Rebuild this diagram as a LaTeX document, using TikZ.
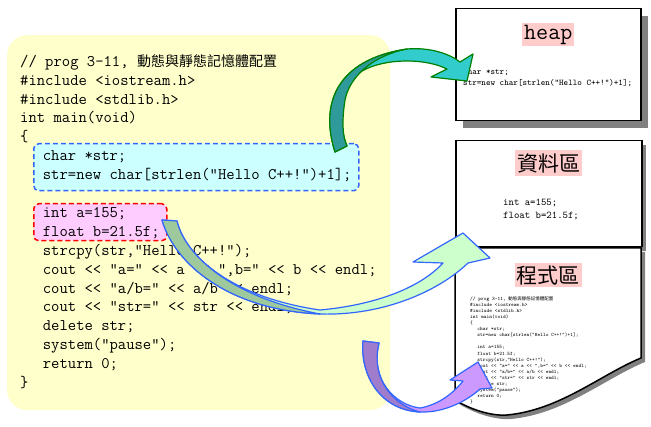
\documentclass[tikz,border=0pt]{standalone}
\usepackage{fontspec}
\setmainfont{Liberation Serif}
\newfontfamily\cjk{Noto Sans CJK TC}
\usepackage{xcolor}
\usetikzlibrary{positioning, shadows}

\definecolor{codebg}{HTML}{FFFFCC}
\definecolor{ptrfill}{HTML}{CCFFFF}
\definecolor{varfill}{HTML}{FFCCFF}
\definecolor{dashblue}{HTML}{3366FF}
\definecolor{labelpink}{HTML}{FFCCCC}
\definecolor{pageshadow}{HTML}{808080}
\definecolor{tealfront}{HTML}{33CCCC}
\definecolor{tealback}{HTML}{2E9A9A}
\definecolor{greenfront}{HTML}{CCFFCC}
\definecolor{greenback}{HTML}{9DC99D}
\definecolor{purplefront}{HTML}{CC99FF}
\definecolor{purpleback}{HTML}{A07CCC}
\definecolor{arrowgreen}{HTML}{008000}

% the listing, used big and small (#1 = size of the Chinese text)
\newcommand\proglines[1]{%
\strut// prog 3-11, {\cjk\fontsize{#1}{#1}\selectfont 動態與靜態記憶體配置}\\
\#include <iostream.h>\\
\#include <stdlib.h>\\
int main(void)\\
\{\\
\hspace*{1.4em}char *str;\\
\hspace*{1.4em}str=new char[strlen("Hello C++!")+1];\\
\mbox{}\\
\hspace*{1.4em}int a=155;\\
\hspace*{1.4em}float b=21.5f;\\
\hspace*{1.4em}strcpy(str,"Hello C++!");\\
\hspace*{1.4em}cout << "a=" << a << ",b=" << b << endl;\\
\hspace*{1.4em}cout << "a/b=" << a/b << endl;\\
\hspace*{1.4em}cout << "str=" << str << endl;\\
\hspace*{1.4em}delete str;\\
\hspace*{1.4em}system("pause");\\
\hspace*{1.4em}return 0;\\
\}}

\tikzset{
  % code side
  codearea/.style={rectangle, rounded corners=20pt, fill=codebg, inner sep=0pt},
  ptrframe/.style={rectangle, rounded corners=5pt, draw=dashblue, fill=ptrfill, line width=1.5pt, dash pattern=on 5pt off 3pt, inner sep=0pt},
  varframe/.style={rectangle, rounded corners=5pt, draw=red, fill=varfill, line width=1.5pt, dash pattern=on 5pt off 3pt, inner sep=0pt},
  codetext/.style={inner sep=0pt, align=left, anchor=north west, font=\ttfamily\fontsize{16.2}{18.9}\selectfont},
  % memory pages
  page/.style={rectangle, draw=black, line width=1.5pt, fill=white, inner sep=0pt, anchor=north west,
    drop shadow={shadow xshift=#1, shadow yshift=-#1, fill=pageshadow, opacity=1}},
  page/.default={4pt},
  pagelabel/.style={fill=labelpink, inner xsep=2pt, inner ysep=0pt, minimum height=#1},
  pagelabel/.default={24pt},
  pagecode/.style={inner sep=0pt, align=left, anchor=north west},
  % block arrows
  tealarrow/.style={draw=arrowgreen, line width=1.2pt, line join=round, fill=#1},
  bluearrow/.style={draw=dashblue, line width=1.2pt, line join=round, fill=#1},
}

\begin{document}
\begin{tikzpicture}[x=1pt, y=-1pt]
  \useasboundingbox (0,0) rectangle (651,427);

  % Code listing
  \node[codearea, minimum width=383pt, minimum height=375pt, anchor=north west] (codebox) at (7,35) {};
  \node[ptrframe, minimum width=325pt, minimum height=47pt, anchor=north west] (strbox) at (33,143) {};
  \node[varframe, minimum width=133pt, minimum height=37pt, anchor=north west] (vars) at (33,203) {};
  \node[codetext] (code) at (20,52.8) {\proglines{14}};

  % heap page
  \node[page=7pt, minimum width=185pt, minimum height=112pt] (heap) at (455,8) {};
  \node[pagelabel=23pt, font=\ttfamily\fontsize{23.4}{24}\selectfont, below=15pt of heap.north] (heaplabel) {heap};
  \node[pagecode, font=\ttfamily\fontsize{8.7}{11}\selectfont] (heapcode) at (463,66.3)
    {\strut char *str;\\str=new char[strlen("Hello C++!")+1];};

  % data page
  \node[page, minimum width=186pt, minimum height=106pt] (data) at (455,140) {};
  \node[pagelabel=26pt, font=\cjk\fontsize{21}{24}\selectfont, below=10pt of data.north] (datalabel) {資料區};
  \node[pagecode, font=\ttfamily\fontsize{10.3}{12.5}\selectfont] (datacode) at (503,196.75)
    {\strut int a=155;\\float b=21.5f;};

  % program page
  \draw[line width=1.5pt, fill=white, drop shadow={shadow xshift=4pt, shadow yshift=-4pt, fill=pageshadow, opacity=1}]
    (455,248) -- (641,248) -- (641,358) .. controls (600,375) and (560,410) .. (507,415)
    .. controls (495,416) and (475,412) .. (455,400) -- cycle;
  \coordinate (prog) at (548,248);
  \node[pagelabel=24pt, font=\cjk\fontsize{21}{24}\selectfont, below=15pt of prog] (proglabel) {程式區};
  \node[pagecode, font=\ttfamily\fontsize{5.15}{6.1}\selectfont] (progcode) at (470,295.7) {\proglines{4.5}};

  % str -> heap
  \draw[tealarrow=tealfront] (335,152) .. controls (320,105) and (335,60) .. (407,49)
    .. controls (430,47) and (450,54) .. (460,62) -- (473,54) -- (467,81) -- (431,77) -- (447,69)
    .. controls (425,58) and (385,58) .. (362,71) .. controls (343,85) and (336,120) .. (347,146) -- cycle;
  \draw[tealarrow=tealback] (335,152) .. controls (320,105) and (335,60) .. (407,49)
    .. controls (375,55) and (350,75) .. (345,100) .. controls (342,120) and (342,135) .. (347,146) -- cycle;

  % variables -> data
  \draw[bluearrow=greenfront] (162,220) .. controls (175,265) and (230,310) .. (320,314)
    .. controls (385,316) and (440,290) .. (468,263) -- (490,258) -- (463,233) -- (413,262) -- (443,263)
    .. controls (420,288) and (375,305) .. (320,310) .. controls (230,297) and (185,255) .. (177,221) -- cycle;
  \draw[bluearrow=greenback] (162,220) .. controls (175,265) and (230,310) .. (320,314)
    .. controls (230,297) and (185,255) .. (177,221) -- cycle;

  % code -> program
  \draw[bluearrow=purplefront] (363,341) .. controls (360,375) and (380,410) .. (420,412)
    .. controls (445,413) and (468,400) .. (480,389) -- (492,388) -- (478,362) -- (450,380) -- (463,381)
    .. controls (452,395) and (437,405) .. (420,408) .. controls (395,405) and (370,380) .. (379,343) -- cycle;
  \draw[bluearrow=purpleback] (363,341) .. controls (360,375) and (380,410) .. (420,412)
    .. controls (395,406) and (370,380) .. (379,343) -- cycle;
\end{tikzpicture}
\end{document}
